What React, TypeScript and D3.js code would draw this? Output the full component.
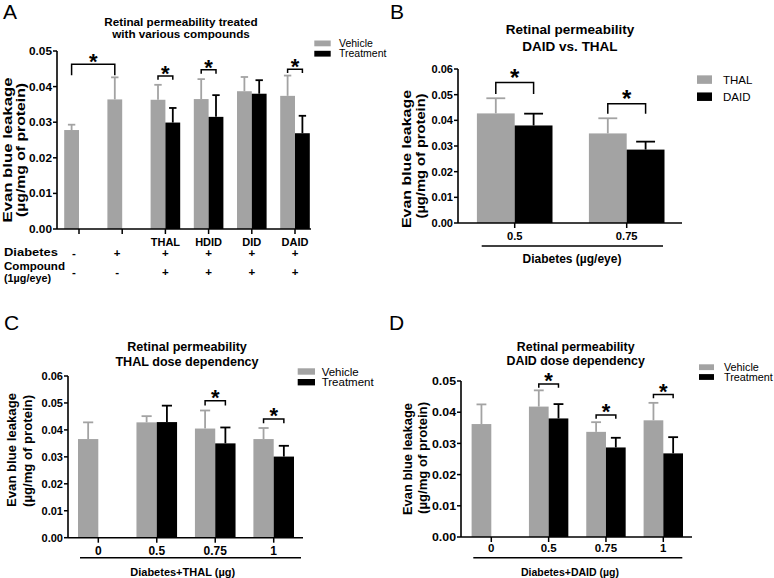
import React from 'react';
import * as d3 from 'd3';

const FONT = '"Liberation Sans", Arial, Helvetica, sans-serif';
const GRAY = '#a3a3a3';
const BLACK = '#000000';

// ---------- Panel A data ----------
const catsA = ['ctrl', 'diab', 'THAL', 'HDID', 'DID', 'DAID'];
const groupLabelsA = ['', '', 'THAL', 'HDID', 'DID', 'DAID'];
const vehicleA = [0.0278, 0.0364, 0.0363, 0.0365, 0.0387, 0.0374];
const vehicleErrA = [0.0015, 0.0062, 0.0042, 0.0056, 0.004, 0.0057];
const treatmentA = [null, null, 0.0299, 0.0315, 0.038, 0.0269];
const treatmentErrA = [null, null, 0.0041, 0.0061, 0.0038, 0.0049];
const diabetesRowA = ['-', '+', '+', '+', '+', '+'];
const compoundRowA = ['-', '-', '+', '+', '+', '+'];
const yTicksA = [0, 0.01, 0.02, 0.03, 0.04, 0.05];
const sigA = [
  { g1: 0, s1: 'v', g2: 1, s2: 'v', y: 0.0463, drop: 0.0031 },
  { g1: 2, s1: 'v', g2: 2, s2: 't', y: 0.043, drop: 0.0011 },
  { g1: 3, s1: 'v', g2: 3, s2: 't', y: 0.0447, drop: 0.0011 },
  { g1: 5, s1: 'v', g2: 5, s2: 't', y: 0.0449, drop: 0.0011 },
];

// ---------- Panel B data ----------
const catsB = ['0.5', '0.75'];
const thalB = [0.0427, 0.0349];
const thalErrB = [0.0059, 0.0059];
const daidB = [0.038, 0.0286];
const daidErrB = [0.0046, 0.0031];
const yTicksB = [0, 0.01, 0.02, 0.03, 0.04, 0.05, 0.06];
const sigB = [
  { g1: 0, s1: 'v', g2: 0, s2: 't', y: 0.0547, drop: 0.0044 },
  { g1: 1, s1: 'v', g2: 1, s2: 't', y: 0.0465, drop: 0.0039 },
];

// ---------- Panel C data ----------
const catsC = ['0', '0.5', '0.75', '1'];
const vehicleC = [0.0366, 0.0428, 0.0405, 0.0366];
const vehicleErrC = [0.0062, 0.0023, 0.0067, 0.0041];
const treatmentC = [null, 0.0429, 0.035, 0.0301];
const treatmentErrC = [null, 0.0061, 0.0059, 0.004];
const yTicksC = [0, 0.01, 0.02, 0.03, 0.04, 0.05, 0.06];
const sigC = [
  { g1: 2, s1: 'v', g2: 2, s2: 't', y: 0.0508, drop: 0.0017 },
  { g1: 3, s1: 'v', g2: 3, s2: 't', y: 0.044, drop: 0.0015 },
];

// ---------- Panel D data ----------
const catsD = ['0', '0.5', '0.75', '1'];
const vehicleD = [0.0362, 0.0418, 0.0337, 0.0374];
const vehicleErrD = [0.0063, 0.0052, 0.0031, 0.0056];
const treatmentD = [null, 0.038, 0.0287, 0.0268];
const treatmentErrD = [null, 0.0046, 0.0031, 0.0052];
const yTicksD = [0, 0.01, 0.02, 0.03, 0.04, 0.05];
const sigD = [
  { g1: 1, s1: 'v', g2: 1, s2: 't', y: 0.049, drop: 0.0012 },
  { g1: 2, s1: 'v', g2: 2, s2: 't', y: 0.0391, drop: 0.0012 },
  { g1: 3, s1: 'v', g2: 3, s2: 't', y: 0.0457, drop: 0.0012 },
];

const fmt = d3.format('.2f');

type PanelCfg = {
  cats: string[];
  v: (number | null)[];
  ve: (number | null)[];
  t: (number | null)[];
  te: (number | null)[];
  yTicks: number[];
  sig: any[];
  xAxis0: number; xAxis1: number; y0: number; yTop: number;
  c0: number; c1: number; bw: number;
  tickFs: number; tickLen: number;
  star: number; starGap: number;
};

function Panel({ p }: { p: PanelCfg }) {
  const yMax = p.yTicks[p.yTicks.length - 1];
  const y = d3.scaleLinear().domain([0, yMax]).range([p.y0, p.yTop]);
  const x = d3.scalePoint<string>().domain(p.cats).range([p.c0, p.c1]);
  const barX = (g: number, s: string) => (s === 'v' ? x(p.cats[g])! - p.bw : x(p.cats[g])!);
  const barC = (g: number, s: string) => barX(g, s) + p.bw / 2;
  const cap = p.bw * 0.5;
  const els: any[] = [];
  p.cats.forEach((c, i) => {
    ([['v', p.v, p.ve, GRAY], ['t', p.t, p.te, BLACK]] as any[]).forEach(([s, vals, errs, col]) => {
      const val = vals[i];
      if (val == null) return;
      const bx = barX(i, s);
      const cx = bx + p.bw / 2;
      const top = y(val + errs[i]);
      els.push(
        <g key={`${c}-${s}`}>
          <line x1={cx} x2={cx} y1={y(val)} y2={top} stroke={col} strokeWidth={1.8} />
          <line x1={cx - cap / 2} x2={cx + cap / 2} y1={top} y2={top} stroke={col} strokeWidth={1.8} />
          <rect x={bx} y={y(val)} width={p.bw} height={p.y0 - y(val)} fill={col} />
        </g>
      );
    });
  });
  return (
    <g>
      {els}
      <line x1={p.xAxis0} x2={p.xAxis0} y1={p.y0} y2={y(yMax)} stroke="#000" strokeWidth={1.6} />
      {p.yTicks.map((t) => (
        <g key={t}>
          <line x1={p.xAxis0 - 4} x2={p.xAxis0} y1={y(t)} y2={y(t)} stroke="#000" strokeWidth={1.5} />
          <text x={p.xAxis0 - 5} y={y(t)} dy="0.36em" textAnchor="end" fontSize={p.tickFs} fontWeight="bold"
            textLength={p.tickLen} lengthAdjust="spacingAndGlyphs">{fmt(t)}</text>
        </g>
      ))}
      <line x1={p.xAxis0} x2={p.xAxis1} y1={p.y0} y2={p.y0} stroke="#000" strokeWidth={1.6} />
      {p.cats.map((c) => (
        <line key={c} x1={x(c)} x2={x(c)} y1={p.y0} y2={p.y0 + 5} stroke="#000" strokeWidth={1.5} />
      ))}
      {p.sig.map((s, k) => {
        const xa = barC(s.g1, s.s1);
        const xb = barC(s.g2, s.s2);
        const yy = y(s.y);
        const yl = y(s.y - s.drop);
        return (
          <g key={k}>
            <path d={`M${xa},${yl}V${yy}H${xb}V${yl}`} fill="none" stroke="#000" strokeWidth={1.5} />
            <text x={(xa + xb) / 2} y={yy - p.starGap + p.star * 0.56} textAnchor="middle" fontSize={p.star} fontWeight="bold">*</text>
          </g>
        );
      })}
    </g>
  );
}

function VLabel({ x, cy, len, fs, children }: any) {
  return (
    <text transform={`translate(${x},${cy}) rotate(-90)`} textAnchor="middle" dominantBaseline="central"
      fontSize={fs} fontWeight="bold" textLength={len} lengthAdjust="spacingAndGlyphs">{children}</text>
  );
}

function Legend({ x, y1, y2, w, h, fs, tx, labels }: any) {
  return (
    <g>
      <rect x={x} y={y1 - h / 2} width={w} height={h} fill={GRAY} />
      <rect x={x} y={y2 - h / 2} width={w} height={h} fill={BLACK} />
      <text x={tx} y={y1} dy="0.36em" fontSize={fs}>{labels[0]}</text>
      <text x={tx} y={y2} dy="0.36em" fontSize={fs}>{labels[1]}</text>
    </g>
  );
}

export default function App() {
  const pA: PanelCfg = {
    cats: catsA, v: vehicleA, ve: vehicleErrA, t: treatmentA, te: treatmentErrA, yTicks: yTicksA, sig: sigA,
    xAxis0: 57, xAxis1: 311, y0: 229, yTop: 51, c0: 79, c1: 295, bw: 14.8, tickFs: 11, tickLen: 23, star: 22, starGap: 7.5,
  };
  const pB: PanelCfg = {
    cats: catsB, v: thalB, ve: thalErrB, t: daidB, te: daidErrB, yTicks: yTicksB, sig: sigB,
    xAxis0: 458, xAxis1: 682, y0: 223, yTop: 69, c0: 514.7, c1: 626.7, bw: 37.8, tickFs: 11, tickLen: 21.5, star: 24, starGap: 10.5,
  };
  const pC: PanelCfg = {
    cats: catsC, v: vehicleC, ve: vehicleErrC, t: treatmentC, te: treatmentErrC, yTicks: yTicksC, sig: sigC,
    xAxis0: 68, xAxis1: 303, y0: 537.7, yTop: 376, c0: 98.3, c1: 273.7, bw: 20.3, tickFs: 11, tickLen: 21.5, star: 22, starGap: 8,
  };
  const pD: PanelCfg = {
    cats: catsD, v: vehicleD, ve: vehicleErrD, t: treatmentD, te: treatmentErrD, yTicks: yTicksD, sig: sigD,
    xAxis0: 461, xAxis1: 692, y0: 537, yTop: 381, c0: 491.3, c1: 663.3, bw: 19.7, tickFs: 11.5, tickLen: 24, star: 22, starGap: 8,
  };
  const xA = d3.scalePoint<string>().domain(catsA).range([pA.c0, pA.c1]);
  const xB = d3.scalePoint<string>().domain(catsB).range([pB.c0, pB.c1]);
  const xC = d3.scalePoint<string>().domain(catsC).range([pC.c0, pC.c1]);
  const xD = d3.scalePoint<string>().domain(catsD).range([pD.c0, pD.c1]);
  const signX = (i: number) => xA(catsA[i])! - (treatmentA[i] == null ? 5 : 0);

  return (
    <svg width={774} height={578} style={{ position: 'absolute', left: 0, top: 0, background: '#fff' }}
      fontFamily={FONT}>
      <rect width={774} height={578} fill="#fff" />
      <text x={3} y={18.5} fontSize={21}>A</text>
      <text x={390} y={18.5} fontSize={21}>B</text>
      <text x={4} y={330} fontSize={21}>C</text>
      <text x={389} y={330} fontSize={21}>D</text>

      {/* ===== Panel A ===== */}
      <text x={181} y={26} textAnchor="middle" fontSize={11.7} fontWeight="bold">Retinal permeability treated</text>
      <text x={181} y={37.5} textAnchor="middle" fontSize={11.7} fontWeight="bold">with various compounds</text>
      <VLabel x={7.5} cy={150} len={145} fs={12}>Evan blue leakage</VLabel>
      <VLabel x={20.5} cy={150} len={134} fs={12}>(µg/mg of protein)</VLabel>
      <Panel p={pA} />
      <Legend x={314.3} y1={43.4} y2={53.7} w={16.4} h={5.8} fs={10.5} tx={339} labels={['Vehicle', 'Treatment']} />
      {groupLabelsA.map((g, i) => (
        <text key={'gl' + i} x={xA(catsA[i])} y={245.5} textAnchor="middle" fontSize={11} fontWeight="bold">{g}</text>
      ))}
      <text x={4} y={256} fontSize={11} fontWeight="bold" textLength={54} lengthAdjust="spacingAndGlyphs">Diabetes</text>
      <text x={4} y={269.5} fontSize={11} fontWeight="bold" textLength={61} lengthAdjust="spacingAndGlyphs">Compound</text>
      <text x={4} y={282} fontSize={11} fontWeight="bold" textLength={47} lengthAdjust="spacingAndGlyphs">(1µg/eye)</text>
      {diabetesRowA.map((s, i) => (
        <text key={'dr' + i} x={signX(i)} y={257} textAnchor="middle" fontSize={11.5} fontWeight="bold">{s}</text>
      ))}
      {compoundRowA.map((s, i) => (
        <text key={'cr' + i} x={signX(i)} y={276} textAnchor="middle" fontSize={11.5} fontWeight="bold">{s}</text>
      ))}

      {/* ===== Panel B ===== */}
      <text x={570} y={33.5} textAnchor="middle" fontSize={13.5} fontWeight="bold">Retinal permeability</text>
      <text x={570} y={51} textAnchor="middle" fontSize={13.5} fontWeight="bold">DAID vs. THAL</text>
      <VLabel x={406.5} cy={159} len={138} fs={12.5}>Evan blue leakage</VLabel>
      <VLabel x={420.5} cy={156} len={125} fs={12.5}>(µg/mg of protein)</VLabel>
      <Panel p={pB} />
      <Legend x={697} y1={79.6} y2={96.7} w={15} h={8.5} fs={11.5} tx={723} labels={['THAL', 'DAID']} />
      {catsB.map((c) => (
        <text key={'bt' + c} x={xB(c)} y={240} textAnchor="middle" fontSize={11.2} fontWeight="bold">{c}</text>
      ))}
      <line x1={481.7} x2={663} y1={246} y2={246} stroke="#000" strokeWidth={1.5} />
      <text x={572} y={263} textAnchor="middle" fontSize={12} fontWeight="bold">Diabetes (µg/eye)</text>

      {/* ===== Panel C ===== */}
      <text x={187} y={350.5} textAnchor="middle" fontSize={12.6} fontWeight="bold">Retinal permeability</text>
      <text x={187} y={365.5} textAnchor="middle" fontSize={12.6} fontWeight="bold">THAL dose dependency</text>
      <VLabel x={12} cy={450} len={114} fs={12.5}>Evan blue leakage</VLabel>
      <VLabel x={28} cy={451} len={112} fs={12.5}>(µg/mg of protein)</VLabel>
      <Panel p={pC} />
      <Legend x={297.7} y1={371.5} y2={382.2} w={17.3} h={6.4} fs={11.5} tx={321.7} labels={['Vehicle', 'Treatment']} />
      {catsC.map((c) => (
        <text key={'ct' + c} x={xC(c)} y={555} textAnchor="middle" fontSize={12} fontWeight="bold">{c}</text>
      ))}
      <line x1={80} x2={301} y1={557.7} y2={557.7} stroke="#000" strokeWidth={1.5} />
      <text x={182.7} y={576} textAnchor="middle" fontSize={11} fontWeight="bold">Diabetes+THAL (µg)</text>

      {/* ===== Panel D ===== */}
      <text x={575.7} y={350.5} textAnchor="middle" fontSize={12.4} fontWeight="bold">Retinal permeability</text>
      <text x={575.7} y={364.5} textAnchor="middle" fontSize={12.4} fontWeight="bold">DAID dose dependency</text>
      <VLabel x={408} cy={459} len={112} fs={12.5}>Evan blue leakage</VLabel>
      <VLabel x={423} cy={458} len={112} fs={12.5}>(µg/mg of protein)</VLabel>
      <Panel p={pD} />
      <Legend x={699} y1={367.2} y2={377} w={15} h={5.8} fs={10.8} tx={724} labels={['Vehicle', 'Treatment']} />
      {catsD.map((c) => (
        <text key={'dt' + c} x={xD(c)} y={551.7} textAnchor="middle" fontSize={11.5} fontWeight="bold">{c}</text>
      ))}
      <line x1={473.3} x2={682.3} y1={557.7} y2={557.7} stroke="#000" strokeWidth={1.5} />
      <text x={570} y={576} textAnchor="middle" fontSize={10.5} fontWeight="bold">Diabetes+DAID (µg)</text>
    </svg>
  );
}
